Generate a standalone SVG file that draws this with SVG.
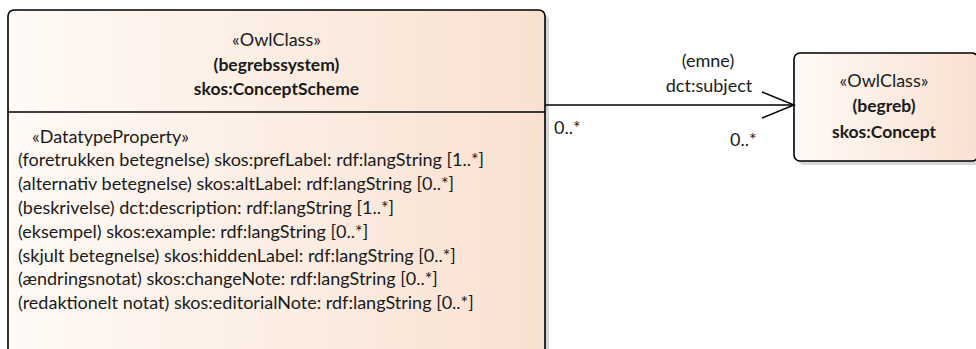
<svg xmlns="http://www.w3.org/2000/svg" width="976" height="349" viewBox="0 0 976 349">
  <defs>
    <linearGradient id="classFill" x1="0" y1="0" x2="1" y2="0">
      <stop offset="0" stop-color="#fffaf6"/>
      <stop offset="1" stop-color="#f9e1d1"/>
    </linearGradient>
    <style>
      .box { fill: url(#classFill); stroke: #000; stroke-width: 1.6; }
      .shadow { fill: #d6d6d6; }
      .sep { stroke: #000; stroke-width: 1.6; }
      text { font-family: Lato, "Liberation Sans", sans-serif; font-size: 18px; fill: #1a1a1a; }
      .c { text-anchor: middle; }
      .b { font-weight: bold; font-size: 17.5px; }
      .edge { fill: none; stroke: #000; stroke-width: 1.4; }
    </style>
  </defs>

  <!-- skos:ConceptScheme class -->
  <g id="node-conceptscheme">
    <rect class="shadow" x="12" y="14" width="537" height="360" rx="6"/>
    <rect class="box" x="8" y="10" width="537" height="360" rx="6"/>
    <line class="sep" x1="8" y1="112" x2="545" y2="112"/>
    <text class="c" x="276.5" y="46">«OwlClass»</text>
    <text class="c b" x="276.5" y="71">(begrebssystem)</text>
    <text class="c b" x="276.5" y="95">skos:ConceptScheme</text>
    <text x="32" y="143">«DatatypeProperty»</text>
    <text x="18" y="166">(foretrukken betegnelse) skos:prefLabel: rdf:langString [1..*]</text>
    <text x="18" y="190">(alternativ betegnelse) skos:altLabel: rdf:langString [0..*]</text>
    <text x="18" y="214">(beskrivelse) dct:description: rdf:langString [1..*]</text>
    <text x="18" y="238">(eksempel) skos:example: rdf:langString [0..*]</text>
    <text x="18" y="262">(skjult betegnelse) skos:hiddenLabel: rdf:langString [0..*]</text>
    <text x="18" y="285">(ændringsnotat) skos:changeNote: rdf:langString [0..*]</text>
    <text x="18" y="309">(redaktionelt notat) skos:editorialNote: rdf:langString [0..*]</text>
  </g>

  <!-- skos:Concept class -->
  <g id="node-concept">
    <rect class="shadow" x="798" y="57" width="184" height="108" rx="6"/>
    <rect class="box" x="794" y="53" width="184" height="108" rx="6"/>
    <text class="c" x="884" y="87">«OwlClass»</text>
    <text class="c b" x="884" y="112">(begreb)</text>
    <text class="c b" x="884" y="138">skos:Concept</text>
  </g>

  <!-- association -->
  <g id="connectors">
    <line class="edge" x1="545" y1="105" x2="794" y2="105"/>
    <polyline class="edge" points="762,92 794,105 762,118"/>
    <text class="c" x="708" y="67">(emne)</text>
    <text class="c" x="709" y="92">dct:subject</text>
    <text x="554" y="134">0..*</text>
    <text x="730" y="146">0..*</text>
  </g>
</svg>
